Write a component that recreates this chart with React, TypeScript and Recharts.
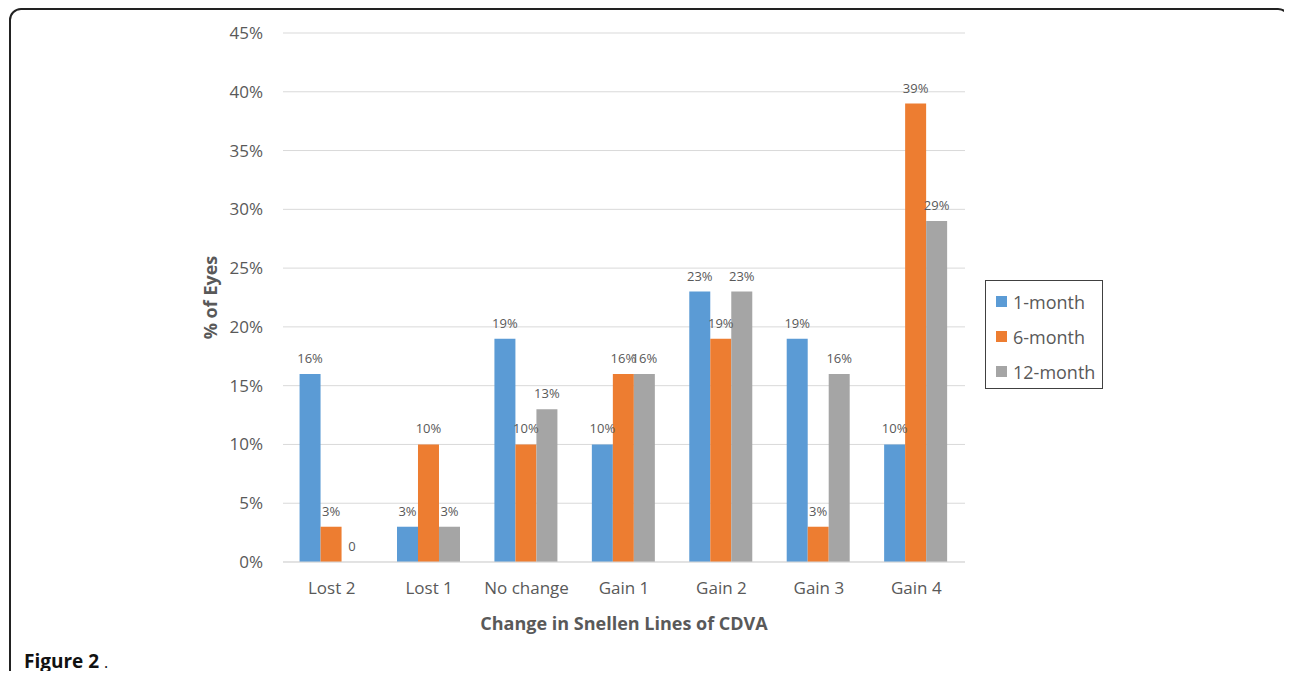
import React from 'react';
import { BarChart, Bar, XAxis, YAxis, CartesianGrid, LabelList, Label } from 'recharts';

const categories = ['Lost 2', 'Lost 1', 'No change', 'Gain 1', 'Gain 2', 'Gain 3', 'Gain 4'];
const oneMonth = [16, 3, 19, 10, 23, 19, 10];
const sixMonth = [3, 10, 10, 16, 19, 3, 39];
const twelveMonth = [0, 3, 13, 16, 23, 16, 29];
const yTicks = [0, 5, 10, 15, 20, 25, 30, 35, 40, 45];

const seriesNames = ['1-month', '6-month', '12-month'];
const colors = ['#5B9BD5', '#ED7D31', '#A5A5A5'];

const data = categories.map((c, i) => ({
  name: c,
  m1: oneMonth[i],
  m6: sixMonth[i],
  m12: twelveMonth[i],
}));

const FONT = '"Open Sans", sans-serif';
const TXT = '#595959';

const fmtLabel = (v: any) => (v === 0 ? '0' : `${v}%`);

const LegendBox = () => (
  <div
    style={{
      position: 'absolute',
      left: 977,
      top: 272,
      width: 116,
      height: 104,
      border: '1px solid #404040',
      paddingTop: 3,
    }}
  >
    {seriesNames.map((n, i) => (
      <div key={n} style={{ display: 'flex', alignItems: 'center', height: 35, paddingLeft: 10 }}>
        <span style={{ display: 'inline-block', width: 11, height: 11, background: colors[i], marginRight: 6 }} />
        <span style={{ fontFamily: FONT, fontSize: 18, color: TXT }}>{n}</span>
      </div>
    ))}
  </div>
);

export default function App() {
  return (
    <div style={{ position: 'relative', width: 1276, height: 663, fontFamily: FONT }}>
      <style>{'html,body{overflow:hidden}'}</style>
      <div
        style={{
          position: 'absolute',
          left: 1,
          top: 0,
          width: 1281,
          height: 676,
          border: '2px solid #222',
          borderRadius: 12,
          boxSizing: 'border-box',
        }}
      />
      <div style={{ position: 'absolute', left: 0, top: 0 }}>
        <BarChart
          width={1270}
          height={650}
          data={data}
          margin={{ top: 25, right: 313, bottom: 26, left: 185 }}
          barCategoryGap="17%"
          barGap={0}
        >
          <CartesianGrid vertical={false} stroke="#D9D9D9" />
          <XAxis
            dataKey="name"
            height={70}
            tickLine={false}
            axisLine={{ stroke: '#D9D9D9' }}
            tickMargin={14}
            tick={{ fill: TXT, fontSize: 17, fontFamily: FONT }}
            interval={0}
          >
            <Label
              value="Change in Snellen Lines of CDVA"
              position="insideBottom"
              offset={2}
              style={{ fill: TXT, fontSize: 18, fontWeight: 700, fontFamily: FONT }}
            />
          </XAxis>
          <YAxis
            width={90}
            domain={[0, 45]}
            ticks={yTicks}
            tickFormatter={(v: any) => `${v}%`}
            tickLine={false}
            axisLine={false}
            tickMargin={14}
            tick={{ fill: TXT, fontSize: 17, fontFamily: FONT }}
          >
            <Label
              content={(props: any) => {
                const vb = props.viewBox || { x: 185, y: 25, width: 90, height: 529 };
                const x = vb.x + 17;
                const y = vb.y + vb.height / 2;
                return (
                  <text
                    x={x}
                    y={y}
                    transform={`rotate(-90, ${x}, ${y})`}
                    textAnchor="middle"
                    dominantBaseline="central"
                    style={{ fill: TXT, fontSize: 18, fontWeight: 700, fontFamily: FONT }}
                  >
                    % of Eyes
                  </text>
                );
              }}
            />
          </YAxis>
          <Bar dataKey="m1" name={seriesNames[0]} fill={colors[0]} isAnimationActive={false} minPointSize={0.01}>
            <LabelList dataKey="m1" position="top" offset={11} formatter={fmtLabel} style={{ fill: TXT, fontSize: 13, fontFamily: FONT }} />
          </Bar>
          <Bar dataKey="m6" name={seriesNames[1]} fill={colors[1]} isAnimationActive={false} minPointSize={0.01}>
            <LabelList dataKey="m6" position="top" offset={11} formatter={fmtLabel} style={{ fill: TXT, fontSize: 13, fontFamily: FONT }} />
          </Bar>
          <Bar dataKey="m12" name={seriesNames[2]} fill={colors[2]} isAnimationActive={false} minPointSize={0.01}>
            <LabelList dataKey="m12" position="top" offset={11} formatter={fmtLabel} style={{ fill: TXT, fontSize: 13, fontFamily: FONT }} />
          </Bar>
        </BarChart>
      </div>
      <LegendBox />
      <div
        style={{
          position: 'absolute',
          left: 16,
          top: 643,
          fontFamily: FONT,
          fontSize: 19,
          color: '#111',
          whiteSpace: 'pre',
          lineHeight: '20px',
        }}
      >
        <b>Figure 2</b> <span style={{ fontSize: 16 }}>.</span>
      </div>
    </div>
  );
}
